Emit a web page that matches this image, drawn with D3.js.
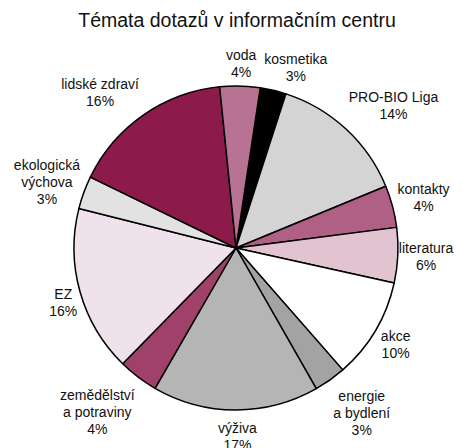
<!DOCTYPE html>
<html><head><meta charset="utf-8">
<script src="https://cdn.jsdelivr.net/npm/d3@7"></script>
<style>html,body{margin:0;padding:0;background:#fff;}</style>
</head><body>
<svg id="chart" width="461" height="448"></svg>
<script>
// Data (clockwise, starting with kosmetika)
const categories = ["kosmetika","PRO-BIO Liga","kontakty","literatura","akce","energie a bydlení","výživa","zemědělství a potraviny","EZ","ekologická výchova","lidské zdraví","voda"];
const labelLines = [["kosmetika"],["PRO-BIO Liga"],["kontakty"],["literatura"],["akce"],["energie","a bydlení"],["výživa"],["zemědělství","a potraviny"],["EZ"],["ekologická","výchova"],["lidské zdraví"],["voda"]];
const values = [2.6,13.8,4.2,5.5,10.1,3.2,16.6,4.0,16.6,3.3,16.2,4.0];
const percentLabels = ["3%","14%","4%","6%","10%","3%","17%","4%","16%","3%","16%","4%"];
const colors = ["#000000","#d4d4d4","#b06085","#e2c3d0","#ffffff","#a3a3a3","#b5b5b5","#a0416b","#f0e2ea","#e2e2e2","#8c1a4b","#b87294"];
const title = "Témata dotazů v informačním centru";

// layout-only label nudges (px), same order as categories
const labelNudge = [[0,0],[0,-2],[1,7],[-3,0],[2,-4],[1,6],[2,7],[-1,8],[1,-3],[0,18],[-2,-1],[0,0]];

const svg = d3.select("#chart");
const cx = 236, cy = 248, R = 162;
const font = "'Liberation Sans', Arial, sans-serif";

svg.append("text").attr("x", 237).attr("y", 27).attr("text-anchor","middle")
  .attr("font-family", font).attr("font-size", 19.5).attr("fill","#111").text(title);

const startDeg = 8.6;
const pie = d3.pie().sort(null).value(d => d)
  .startAngle(startDeg*Math.PI/180).endAngle((startDeg+360)*Math.PI/180);
const arcs = pie(values);
const arc = d3.arc().innerRadius(0).outerRadius(R);
const g = svg.append("g").attr("transform", `translate(${cx},${cy})`);
g.selectAll("path").data(arcs).enter().append("path")
  .attr("d", arc).attr("fill", (d,i) => colors[i])
  .attr("stroke", "#000").attr("stroke-width", 1.5).attr("stroke-linejoin","round");

// labels
const lh = 17, fs = 14, A = R + 4;
const clamp = v => Math.max(-1, Math.min(1, v));
arcs.forEach((a,i) => {
  const lines = labelLines[i].concat([percentLabels[i]]);
  const n = lines.length;
  const t = g.append("text").attr("font-family", font).attr("font-size", fs)
    .attr("fill","#111").attr("text-anchor","middle");
  lines.forEach((l,k) => t.append("tspan").attr("x",0).attr("dy", k===0?0:lh).text(l));
  let w = 0;
  t.selectAll("tspan").each(function(){ w = Math.max(w, this.getComputedTextLength()); });
  const h = n * lh;
  const mid = (a.startAngle + a.endAngle)/2;
  const dx = Math.sin(mid), dy = -Math.cos(mid);
  const x = dx*A + clamp(3*dx)*w/2 + labelNudge[i][0];
  const yc = dy*A + clamp(3*dy)*h/2 + labelNudge[i][1];
  const b1 = yc - 8.5*(n-1) + 3.5;
  t.attr("transform", `translate(${x},${b1})`);
});
</script>
</body></html>
